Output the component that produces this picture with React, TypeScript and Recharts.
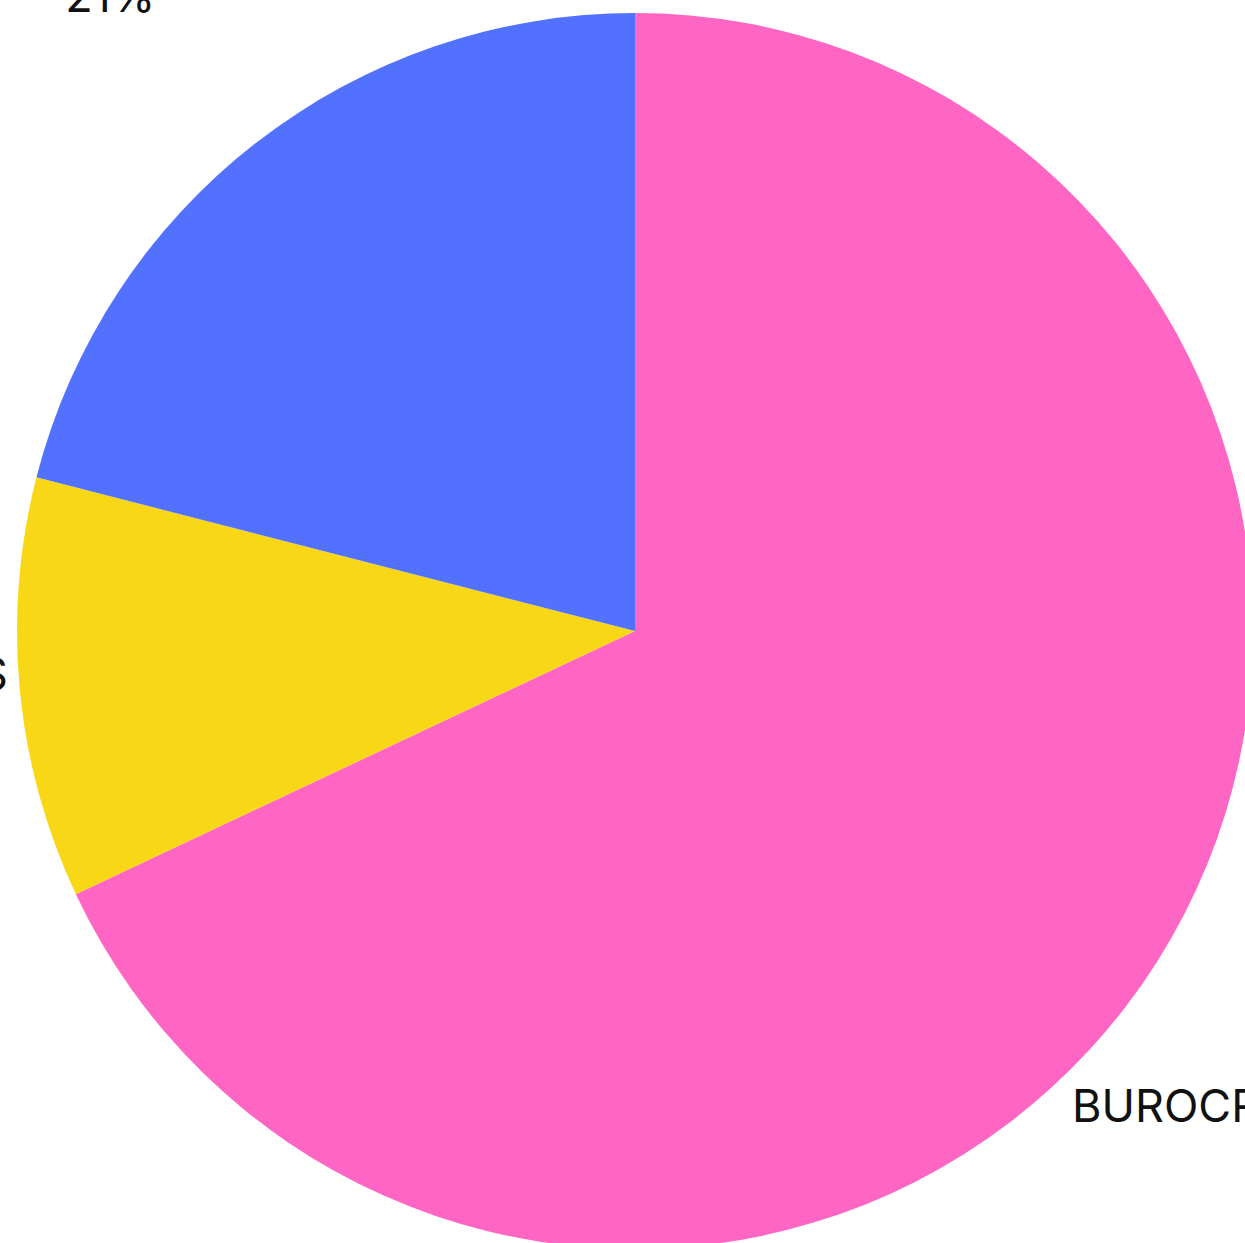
import React from "react";
import { PieChart, Pie, Cell } from "recharts";

const categories = ["BUROCRACIA", "IMPUESTOS", "CORRUPCIÓN"];
const values = [68, 11, 21];
const colors = ["#FF66C4", "#F8D717", "#5271FF"];
const labelLines = [["BUROCRACIA"], ["IMPUESTOS"], ["CORRUPCIÓN", "21%"]];
// label layout: extra radius beyond outer edge and angular shift (deg)
const labelOffset = [39, 12, 165];
const labelShift = [-15.9, 0, 0];

const data = categories.map((name, i) => ({ name, value: values[i] }));

const RAD = Math.PI / 180;
const LINE_H = 55;

const renderLabel = (props: any) => {
  const { cx, cy, midAngle, outerRadius, index } = props;
  const r = outerRadius + labelOffset[index];
  const a = (midAngle + labelShift[index]) * RAD;
  const x = cx + r * Math.cos(-a);
  const y = cy + r * Math.sin(-a);
  const anchor = x > cx ? "start" : "end";
  const lines = labelLines[index];
  return (
    <text
      key={`lbl-${index}`}
      x={x}
      y={y}
      textAnchor={anchor}
      fill="#111111"
      fontSize={45}
      fontFamily="Inter, 'Noto Sans', sans-serif"
    >
      {lines.map((t, k) => (
        <tspan key={k} x={x} y={y - (lines.length - 1 - k) * LINE_H}>
          {t}
        </tspan>
      ))}
    </text>
  );
};

export default function App() {
  return (
    <div
      style={{
        position: "fixed",
        left: 0,
        top: 0,
        width: 1245,
        height: 1243,
        overflow: "hidden",
        background: "#ffffff",
      }}
    >
      <div style={{ position: "absolute", left: -400, top: -200 }}>
        <PieChart width={2100} height={1700} margin={{ top: 0, right: 0, bottom: 0, left: 0 }}>
          <Pie
            data={data}
            dataKey="value"
            nameKey="name"
            cx={1035}
            cy={831}
            outerRadius={618}
            startAngle={90}
            endAngle={-270}
            stroke="none"
            labelLine={false}
            label={renderLabel}
            isAnimationActive={false}
          >
            {data.map((d, i) => (
              <Cell key={d.name} fill={colors[i]} />
            ))}
          </Pie>
        </PieChart>
      </div>
    </div>
  );
}
